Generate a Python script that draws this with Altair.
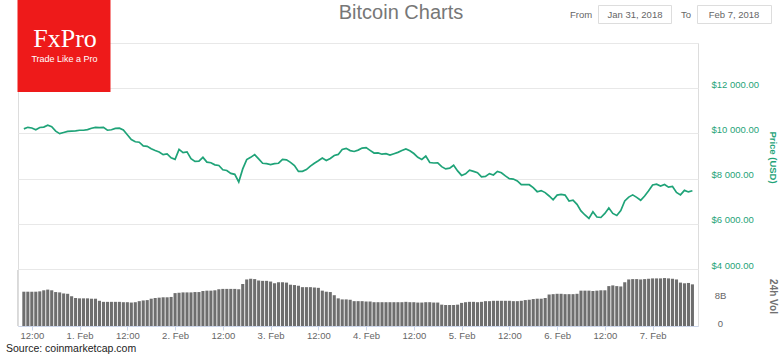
import altair as alt
import pandas as pd

# ---------------- data ----------------
start_time = "2018-01-31 10:00"          # first hourly sample (UTC)
price_usd = [
    10200, 10270, 10240, 10160, 10260, 10280, 10360, 10300, 10100, 9990,
    10040, 10090, 10100, 10110, 10140, 10140, 10170, 10230, 10270, 10260,
    10270, 10140, 10160, 10220, 10230, 10150, 9940, 9730, 9630, 9610,
    9450, 9430, 9320, 9240, 9180, 9060, 9090, 8920, 8850, 9290,
    9150, 9180, 8880, 8760, 8770, 8940, 8730, 8700, 8610, 8580,
    8390, 8360, 8230, 8190, 7850, 8430, 8840, 8940, 9060, 8870,
    8680, 8660, 8620, 8660, 8680, 8850, 8830, 8720, 8580, 8320,
    8320, 8400, 8550, 8680, 8790, 8910, 8800, 8890, 9020, 9070,
    9290, 9340, 9240, 9200, 9260, 9350, 9370, 9250, 9130, 9140,
    9080, 9100, 9040, 9100, 9160, 9240, 9310, 9230, 9110, 8940,
    8850, 9000, 8710, 8690, 8700, 8530, 8430, 8460, 8590, 8340,
    8140, 8210, 8370, 8320, 8260, 8080, 8100, 8220, 8160, 8320,
    8260, 8120, 8000, 7980, 7900, 7730, 7730, 7730, 7600, 7420,
    7470, 7380, 7230, 7060, 7270, 7300, 7270, 7010, 7050, 6860,
    6570, 6390, 6240, 6530, 6300, 6280, 6460, 6700, 6460, 6370,
    6590, 7010, 7180, 7280, 7170, 7040, 7230, 7460, 7720, 7750,
    7670, 7740, 7620, 7650, 7390, 7280, 7480, 7410, 7460,
]
volume_bn = [
    9.8, 9.8, 9.8, 9.8, 9.9, 10.2, 10.4, 10.2, 9.7, 9.6,
    9.3, 9.2, 8.5, 8.0, 7.9, 7.9, 7.9, 7.8, 7.8, 7.2,
    6.9, 6.9, 6.9, 6.9, 6.9, 6.8, 6.8, 6.7, 6.8, 7.1,
    7.3, 7.4, 7.8, 8.0, 8.1, 8.2, 8.2, 8.3, 9.4, 9.5,
    9.6, 9.6, 9.6, 9.7, 9.7, 10.0, 10.1, 10.1, 10.2, 10.5,
    10.6, 10.6, 10.6, 10.6, 10.5, 12.0, 13.3, 13.5, 13.4, 13.0,
    12.9, 12.9, 12.7, 12.2, 12.5, 12.5, 12.4, 11.8, 11.7, 11.5,
    11.1, 11.1, 11.1, 11.0, 10.9, 10.1, 9.8, 9.7, 8.8, 7.9,
    7.6, 7.6, 7.5, 7.1, 7.1, 7.1, 7.0, 7.0, 6.8, 6.8,
    6.8, 6.8, 6.8, 6.8, 6.8, 6.8, 6.9, 6.8, 6.8, 6.7,
    6.7, 6.8, 6.8, 6.7, 6.7, 6.1, 6.0, 6.0, 6.0, 6.1,
    6.6, 6.8, 6.9, 6.9, 6.8, 6.9, 7.1, 7.1, 7.2, 7.2,
    7.2, 7.2, 7.2, 7.1, 7.1, 7.2, 7.4, 7.5, 7.7, 7.8,
    7.8, 8.0, 9.0, 9.1, 9.2, 9.2, 9.1, 9.1, 9.1, 9.2,
    10.1, 10.1, 10.1, 10.0, 10.1, 10.2, 10.2, 11.4, 11.6, 11.4,
    11.3, 12.5, 13.3, 13.4, 13.4, 13.3, 13.4, 13.5, 13.6, 13.6,
    13.6, 13.7, 13.6, 13.5, 13.3, 12.4, 12.2, 12.3, 11.9,
]
price_ticks = [4000, 6000, 8000, 10000, 12000, 14000]
volume_ticks = [0, 8e9]
x_domain = ["2018-01-31 09:47", "2018-02-07 10:09"]
x_tick_start, x_tick_end = "2018-01-31 12:00", "2018-02-07 00:00"

title_text = "Bitcoin Charts"
from_label, to_label = "From", "To"
from_date, to_date = "Jan 31, 2018", "Feb 7, 2018"
logo_name, logo_tagline = "FxPro", "Trade Like a Pro"
source_text = "Source: coinmarketcap.com"

# ---------------- build table ----------------
times = pd.date_range(start_time, periods=len(price_usd), freq="h")
df = pd.DataFrame({
    "time": times.strftime("%Y-%m-%dT%H:%M:%SZ"),
    "price": price_usd,
    "volume": [v * 1e9 for v in volume_bn],
})

def ms(s):
    return int(pd.Timestamp(s, tz="UTC").value // 10**6)

tick_ms = [ms(t) for t in pd.date_range(x_tick_start, x_tick_end, freq="12h")]

GREEN = "#1fa378"
GREY_TXT = "#666666"
W, H = 680, 283

x_axis = alt.Axis(
    values=tick_ms, grid=False, domain=True, domainColor="#ccd6eb",
    ticks=True, tickColor="#ccd6eb", tickSize=4, labelPadding=0,
    labelFontSize=9.5, labelColor=GREY_TXT, labelFlush=False, labelOverlap=False,
    labelExpr="utchours(datum.value) == 0 ? utcdate(datum.value) + '. ' + utcFormat(datum.value, '%b') : '12:00'",
    title=None,
)
x_enc = alt.X("time:T", scale=alt.Scale(type="utc", domain=[ms(x_domain[0]), ms(x_domain[1])]), axis=x_axis)

volume = alt.Chart(df).mark_bar(size=3.1, color="#6e6e6e").encode(
    x=x_enc,
    y=alt.Y("volume:Q",
            scale=alt.Scale(domain=[0, 16e9], range=[283, 227], nice=False, zero=True),
            axis=alt.Axis(orient="right", values=volume_ticks, grid=False, domain=False,
                          ticks=False, tickSize=0, labelPadding=22, labelAlign="center",
                          labelBaseline="alphabetic", labelFontSize=9.5, labelColor=GREY_TXT,
                          labelExpr="datum.value == 0 ? '0' : format(datum.value / 1e9, 'd') + 'B'",
                          title="24h Vol", titleX=74, titleY=253, titleAngle=90,
                          titleAlign="center", titleBaseline="middle", titleColor="#707070",
                          titleFontSize=10, titleFontWeight="bold")),
)

price = alt.Chart(df).mark_line(color=GREEN, strokeWidth=1.7).encode(
    x=x_enc,
    y=alt.Y("price:Q",
            scale=alt.Scale(domain=[4000, 14000], range=[226, 0], nice=False, zero=False),
            axis=alt.Axis(orient="right", values=price_ticks, grid=True, gridColor="#e8e8e8",
                          domain=False, ticks=False, tickSize=0, labelPadding=13,
                          labelAlign="left", labelBaseline="alphabetic", labelOffset=-1,
                          labelFontSize=9.5, labelColor=GREEN,
                          labelExpr="datum.value == 14000 ? '' : '$' + replace(format(datum.value, ',.2f'), ',', ' ')",
                          title="Price (USD)", titleX=74, titleY=114, titleAngle=90,
                          titleAlign="center", titleBaseline="middle", titleColor=GREEN,
                          titleFontSize=9.5, titleFontWeight="bold")),
)

one = pd.DataFrame({"k": [0]})

def text(label, x, y, size, color, align="center", font="Liberation Sans", weight="normal"):
    return alt.Chart(pd.DataFrame({"t": [label]})).mark_text(
        align=align, baseline="middle", fontSize=size, color=color, font=font, fontWeight=weight
    ).encode(text="t:N", x=alt.value(x), y=alt.value(y))

def box(x1, x2, y1, y2, fill, stroke=None):
    kw = {"fill": fill}
    if stroke:
        kw["stroke"] = stroke
        kw["strokeWidth"] = 1
    return alt.Chart(one).mark_rect(**kw).encode(
        x=alt.value(x1), x2=alt.value(x2), y=alt.value(y1), y2=alt.value(y2))

vol_edge = alt.Chart(one).mark_rule(color="#d9d9d9", strokeWidth=1).encode(
    x=alt.value(-0.5), y=alt.value(227), y2=alt.value(283))

decor = [
    vol_edge,
    text(title_text, 383, -30, 20, "#777777"),
    text(from_label, 563, -28, 9.5, GREY_TXT),
    box(580.5, 653.5, -37.5, -19.5, "white", "#dddddd"),
    text(from_date, 617, -28, 9.5, GREY_TXT),
    text(to_label, 668, -28, 9.5, GREY_TXT),
    box(679.5, 753.5, -37.5, -19.5, "white", "#dddddd"),
    text(to_date, 716, -28, 9.5, GREY_TXT),
    box(-0.5, 92.5, -43, 49, "#ee1a1a"),
    text(logo_name, 47, -4, 26, "white", font="Liberation Serif"),
    text(logo_tagline, 46.5, 16, 9, "white"),
    text(source_text, -12, 306, 10.5, "#222222", align="left"),
]

chart = alt.layer(volume, price).resolve_scale(y="independent")
chart = alt.layer(chart, *decor).properties(
    width=W, height=H,
    padding={"left": 18, "top": 43, "right": 84, "bottom": 30},
    autosize=alt.AutoSizeParams(type="none"),
).configure_view(stroke=None).configure(font="Liberation Sans")

chart.save("out.html", embed_options={"renderer": "svg", "actions": False})
